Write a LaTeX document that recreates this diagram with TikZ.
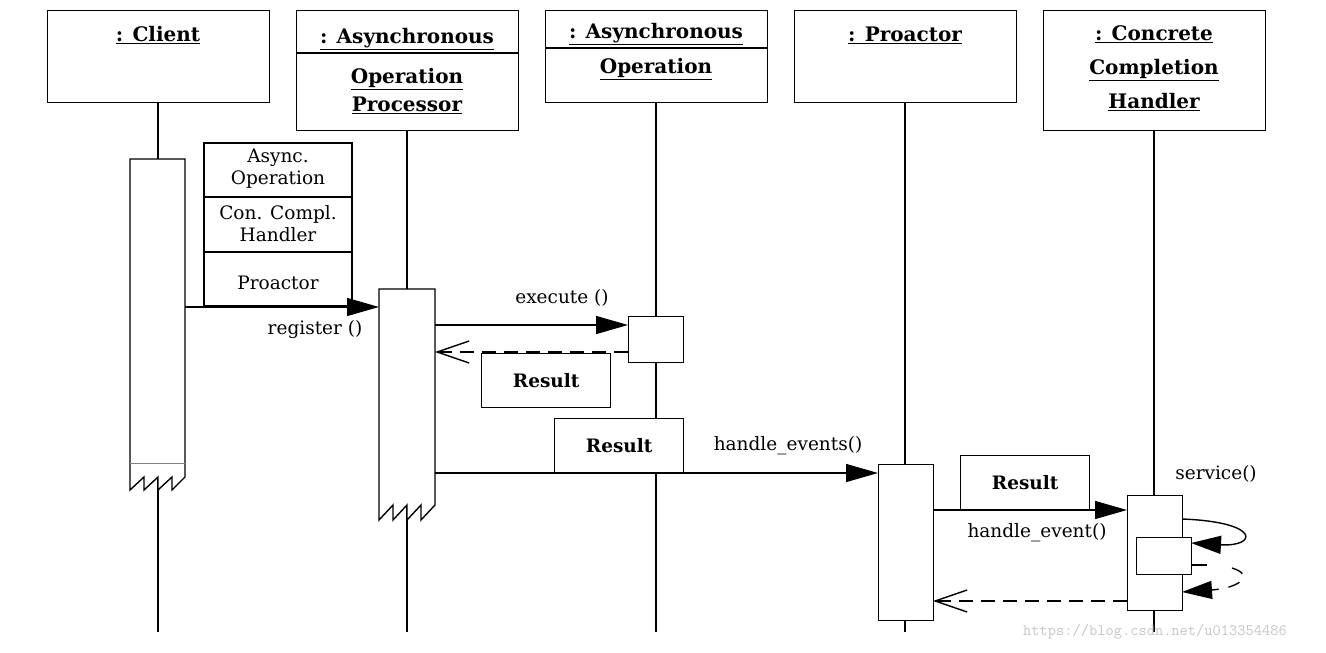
\documentclass[tikz,border=0pt]{standalone}
\usepackage{fontspec}
\setmainfont{DejaVu Serif}
\usetikzlibrary{arrows.meta}
\begin{document}
\begin{tikzpicture}[x=1pt,y=-1pt,line width=1.4pt,
 obj/.style={draw,minimum width=222pt,anchor=north west,inner sep=0},
 act/.style={draw,fill=white,anchor=north west,minimum width=55pt,inner sep=0},
 hd/.style={font=\fontsize{20}{30}\selectfont\bfseries,align=center},
 lbl/.style={font=\fontsize{18.5}{22}\selectfont},
 res/.style={draw,fill=white,anchor=north west,minimum width=129pt,minimum height=54pt,font=\fontsize{18.5}{24}\selectfont\bfseries},
 call/.style={-{Triangle[length=32pt,width=18pt]}},
 ret/.style={dash pattern=on 14pt off 8pt,-{Straight Barb[length=32pt,width=22pt]}}]
\useasboundingbox (0,0) rectangle (1326,653);
% objects
\node[obj,minimum height=92pt] (c) at (47,10) {};
\node[hd] at (158,35) {\underline{: Client}};
\node[obj,minimum height=120pt] (p) at (296,10) {};
\draw (296,53)--(518,53);
\node[hd] at (407,39) {\underline{: Asynchronous}};
\node[hd] at (407,91) {\underline{Operation}\\[-2pt]\underline{Processor}};
\node[obj,minimum height=92pt] (o) at (545,10) {};
\draw (545,48)--(767,48);
\node[hd] at (656,34) {\underline{: Asynchronous}};
\node[hd] at (656,69) {\underline{Operation}};
\node[obj,minimum height=92pt] (r) at (794,10) {};
\node[hd] at (905,35) {\underline{: Proactor}};
\node[obj,minimum height=120pt] (h) at (1043,10) {};
\node[hd,font=\fontsize{20}{34}\selectfont\bfseries] at (1154,68) {\underline{: Concrete}\\\underline{Completion}\\\underline{Handler}};
% lifelines
\draw (158,102)--(158,632);
\draw (407,130)--(407,632);
\draw (656,102)--(656,632);
\draw (905,102)--(905,632);
\draw (1154,130)--(1154,632);
% client activation
\draw[fill=white] (130,490)--(130,159)--(185,159)--(185,477)--(172,490)--(172,477)--(158,490)--(158,477)--(144,490)--(144,477)--cycle;
\draw[gray,line width=0.6pt] (130,463)--(185,463);
\draw (158,490)--(158,500);
% AOP activation
\draw[fill=white] (379,520)--(379,289)--(435,289)--(435,505)--(421,520)--(421,505)--(407,520)--(407,505)--(393,520)--(393,505)--cycle;
% argument box
\draw (204,143) rectangle (352,306);
\draw (204,197)--(352,197) (204,252)--(352,252);
\node[lbl,align=center] at (278,169) {Async.\\Operation};
\node[lbl,align=center] at (278,224) {Con. Compl.\\Handler};
\node[lbl] at (278,283) {Proactor};
\coordinate (c1) at (185,307);
\coordinate (p1) at (379,307);
\draw[call] (c1)--(p1);
\node[lbl] at (315,330) {register ()};
% execute
\node[act,minimum height=46pt] (oa) at (628,316) {};
\draw[call] (435,325)--(628,325);
\node[lbl] at (562,298) {execute ()};
\draw[ret] (628,352)--(435,352);
\node[res] at (481,353) {Result};
% handle_events
\node[res] at (554,418) {Result};
\node[act,minimum height=156pt] (ra) at (878,464) {};
\draw[call] (435,473)--(878,473);
\node[lbl] at (788,446) {handle\_events()};
% handle_event
\node[res] at (960,455) {Result};
\node[act,minimum height=115pt] (ha) at (1127,495) {};
\draw[call] (933,510)--(1127,510);
\node[lbl] at (1037,533) {handle\_event()};
\node[act,minimum height=37pt] (hi) at (1136,537) {};
\node[lbl] at (1216,474) {service()};
\draw[-{Triangle[length=30pt,width=18pt]}] (1182,519) .. controls (1262,522) and (1257,547) .. (1191,543);
\draw (1191,565)--(1207,565);
\draw[dash pattern=on 12pt off 10pt,-{Triangle[length=30pt,width=18pt]}] (1232,568) .. controls (1255,575) and (1240,588) .. (1182,592);
\draw[ret] (1127,601)--(933,601);
\node[font=\ttfamily\fontsize{16}{18}\selectfont,text=gray!45] at (1155,632) {https://blog.csdn.net/u013354486};
\end{tikzpicture}
\end{document}
